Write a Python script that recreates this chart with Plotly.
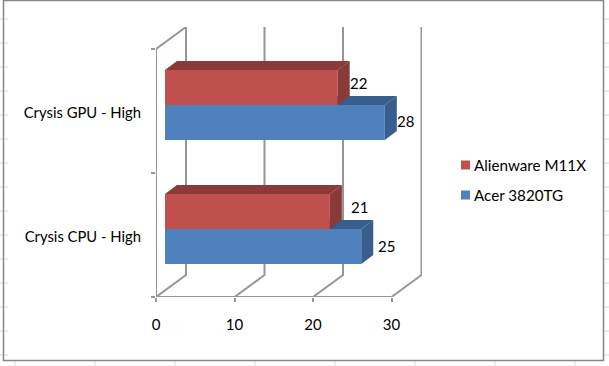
import plotly.graph_objects as go

categories = ["Crysis CPU - High", "Crysis GPU - High"]
alienware = [21, 22]
acer = [25, 28]
series_names = ["Alienware M11X", "Acer 3820TG"]
x_ticks = [0, 10, 20, 30]

W, H = 609, 366
PX_X = 7.85          # px per value unit
PX_Y = 124.0         # px per category
L, B = 156, 297      # pixel position of axis origin
PW, PH = 266, 270    # plot box in px
DEPTH_DX, DEPTH_DY = 30 / PX_X, 22 / PX_Y      # wall depth
BAR_DX, BAR_DY = 12 / PX_X, 9 / PX_Y           # bar depth
BASE_X = 9 / PX_X
SHIFT_Y = 6 / PX_Y
THICK = 35 / PX_Y
XMAX, YMAX = PW / PX_X, PH / PX_Y
RED, RED_D = "#C0504D", "#8A3A38"
BLUE, BLUE_D = "#4F81BD", "#375E8C"
GRID = "#969696"
FONT = "Lato"


def paper_x(px):
    return (px - L) / PW


def paper_y(py):
    return (B - py) / PH


fig = go.Figure()

# walls
wx, wy = [], []
for t in x_ticks:
    wx += [t, t + DEPTH_DX, t + DEPTH_DX, None]
    wy += [0, DEPTH_DY, 2 + DEPTH_DY, None]
wx += [0, 0, None, 0, x_ticks[-1], None, 0, DEPTH_DX]
wy += [0, 2, None, 0, 0, None, 2, 2 + DEPTH_DY]
fig.add_trace(go.Scatter(x=wx, y=wy, mode="lines", line=dict(color=GRID, width=2),
                         hoverinfo="skip", showlegend=False, cliponaxis=False))


def add_series(values, offset, color, dark, name, axes):
    xa, ya = axes
    ys = [i + 0.5 + SHIFT_Y + offset for i in range(len(values))]
    fig.add_trace(go.Bar(x=values, y=ys, base=BASE_X, width=THICK, orientation="h",
                         marker=dict(color=color, line=dict(width=0)), name=name,
                         showlegend=False, xaxis=xa, yaxis=ya))
    for v, yc in zip(values, ys):
        x0, x1 = BASE_X, BASE_X + v
        lo, hi = yc - THICK / 2, yc + THICK / 2
        top_x = [x0, x1, x1 + BAR_DX, x0 + BAR_DX, x0]
        top_y = [hi, hi, hi + BAR_DY, hi + BAR_DY, hi]
        side_x = [x1, x1 + BAR_DX, x1 + BAR_DX, x1, x1]
        side_y = [lo, lo + BAR_DY, hi + BAR_DY, hi, lo]
        for fx, fy in ((top_x, top_y), (side_x, side_y)):
            fig.add_trace(go.Scatter(x=fx, y=fy, mode="lines", fill="toself", fillcolor=dark,
                                     line=dict(width=0, color=dark), hoverinfo="skip",
                                     showlegend=False, xaxis=xa, yaxis=ya))


add_series(acer, -THICK / 2, BLUE, BLUE_D, series_names[1], ("x2", "y2"))
add_series(alienware, THICK / 2, RED, RED_D, series_names[0], ("x3", "y3"))

# data labels
LABEL_OFF_RED = [(30, 4.5), (21, 5)]
LABEL_OFF_BLUE = [(25, 1), (21, 2)]
annotations = []
for values, offs, off_y in ((alienware, LABEL_OFF_RED, THICK / 2), (acer, LABEL_OFF_BLUE, -THICK / 2)):
    for i, v in enumerate(values):
        annotations.append(dict(x=BASE_X + v + offs[i][0] / PX_X,
                                y=i + 0.5 + SHIFT_Y + off_y + offs[i][1] / PX_Y,
                                text=str(v), showarrow=False, xref="x", yref="y",
                                font=dict(family=FONT, size=15, color="#000000")))

# legend
LEG_X_SW, LEG_X_TX = 461, 474
LEG_Y = [165, 195]
shapes = []
for name, col, ly in zip(series_names, (RED, BLUE), LEG_Y):
    annotations.append(dict(x=paper_x(LEG_X_TX), y=paper_y(ly), xref="paper", yref="paper", text=name,
                            showarrow=False, xanchor="left", yanchor="middle", xshift=-2,
                            font=dict(family=FONT, size=15.2, color="#000000")))
    shapes.append(dict(type="rect", xref="paper", yref="paper", x0=paper_x(LEG_X_SW), x1=paper_x(LEG_X_SW + 9),
                       y0=paper_y(ly + 4.5), y1=paper_y(ly - 4.5), fillcolor=col, line=dict(width=0)))

# sheet frame and cell grid stubs
FRAME = "#868686"
STUB = "#D9D9D9"
for yy in range(19, 360, 24):
    shapes.append(dict(type="line", xref="paper", yref="paper", x0=paper_x(0), x1=paper_x(8),
                       y0=paper_y(yy), y1=paper_y(yy), line=dict(color=STUB, width=1)))
    shapes.append(dict(type="line", xref="paper", yref="paper", x0=paper_x(604), x1=paper_x(W),
                       y0=paper_y(yy), y1=paper_y(yy), line=dict(color=STUB, width=1)))
for xx in range(15, 609, 80):
    shapes.append(dict(type="line", xref="paper", yref="paper", x0=paper_x(xx), x1=paper_x(xx),
                       y0=paper_y(H), y1=paper_y(361), line=dict(color=STUB, width=1)))
shapes.append(dict(type="rect", xref="paper", yref="paper", x0=paper_x(3.5), x1=paper_x(603.5),
                   y0=paper_y(360.5), y1=paper_y(0.5),
                   line=dict(color=FRAME, width=1.5), fillcolor="rgba(0,0,0,0)"))

hidden = dict(visible=False, range=[0, XMAX], fixedrange=True)
hidden_y = dict(visible=False, range=[0, YMAX], fixedrange=True)
LABEL_NUDGE = 2 / PX_Y
fig.update_layout(
    width=W, height=H, autosize=False,
    margin=dict(l=L, r=W - L - PW, t=B - PH, b=H - B, pad=0),
    paper_bgcolor="#FFFFFF", plot_bgcolor="rgba(0,0,0,0)",
    barmode="overlay", showlegend=False,
    font=dict(family=FONT, size=15, color="#000000"),
    annotations=annotations, shapes=shapes,
    xaxis=dict(range=[0, XMAX], tickvals=x_ticks, ticks="outside", ticklen=4, tickcolor=GRID, tickwidth=2,
               showgrid=False, zeroline=False, showline=False, fixedrange=True,
               tickfont=dict(family=FONT, size=15), ticklabelstandoff=10),
    yaxis=dict(range=[0, YMAX], tickvals=[0.5 - LABEL_NUDGE, 1.5 - LABEL_NUDGE], ticktext=categories, ticks="",
               showgrid=False, zeroline=False, showline=False, fixedrange=True,
               tickfont=dict(family=FONT, size=14.8), ticklabelstandoff=14,
               minor=dict(tickvals=[0, 1, 2], ticks="outside", ticklen=4, tickcolor=GRID, tickwidth=2, showgrid=False)),
    xaxis2=dict(overlaying="x", **hidden), yaxis2=dict(overlaying="y", **hidden_y),
    xaxis3=dict(overlaying="x", **hidden), yaxis3=dict(overlaying="y", **hidden_y),
)
fig.write_html("out.html", config={"displayModeBar": False}, post_script="document.body.style.margin='0';")
